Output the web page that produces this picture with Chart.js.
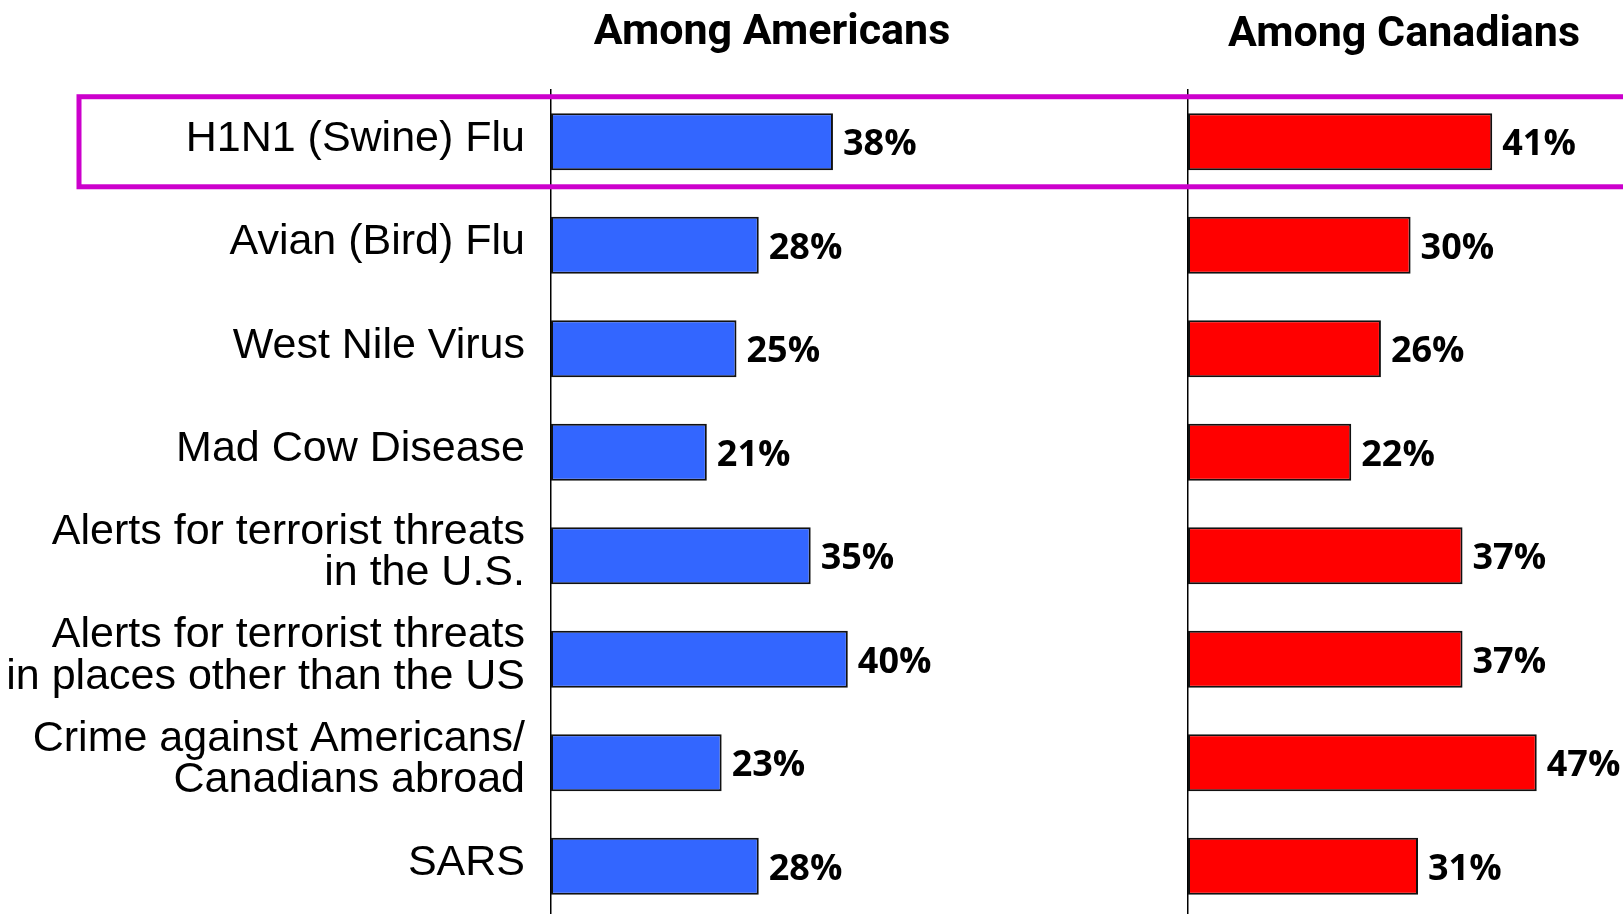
<!DOCTYPE html>
<html>
<head>
<meta charset="utf-8">
<script src="https://cdn.jsdelivr.net/npm/chart.js@4/dist/chart.umd.min.js"></script>
<style>
    html, body { margin: 0; padding: 0; background: #fff; }
    .stage { position: relative; width: 1623px; height: 914px; overflow: hidden; }
    .stage canvas { position: absolute; left: 0; top: 0; }
    .panel-title {
        position: absolute;
        transform: translateX(-50%);
        white-space: nowrap;
        font: bold 43px Roboto, sans-serif;
        line-height: 43px;
        color: #000;
    }
</style>
</head>
<body>
<div class="stage">
    <canvas id="usChart" width="1623" height="918"></canvas>
    <canvas id="caChart" width="1623" height="918"></canvas>
    <div class="panel-title" style="left: 772px; top: 8px;">Among Americans</div>
    <div class="panel-title" style="left: 1404px; top: 10px;">Among Canadians</div>
</div>
<script>
// 数据
const categories = [
    "H1N1 (Swine) Flu",
    "Avian (Bird) Flu",
    "West Nile Virus",
    "Mad Cow Disease",
    ["Alerts for terrorist threats", "in the U.S."],
    ["Alerts for terrorist threats", "in places other than the US"],
    ["Crime against Americans/", "Canadians abroad"],
    "SARS"
];
const americans = [38, 28, 25, 21, 35, 40, 23, 28];
const canadians = [41, 30, 26, 22, 37, 37, 47, 31];
const highlightIndex = 0;

// 布局
const CANVAS_W = 1623;
const PLOT_TOP = 90;
const PX_PER_PCT = 7.42;
const US_AXIS_X = 551;
const CA_AXIS_X = 1188;
const US_MAX = 80;
const CA_MAX = 58;

// 条形末端的百分比标签
const valueLabels = {
    id: "valueLabels",
    afterDatasetsDraw(chart) {
        const ctx = chart.ctx;
        const meta = chart.getDatasetMeta(0);
        const values = chart.data.datasets[0].data;
        ctx.save();
        ctx.font = "bold 36px 'Open Sans', sans-serif";
        ctx.fillStyle = "#000";
        ctx.textAlign = "left";
        ctx.textBaseline = "middle";
        meta.data.forEach((bar, i) => {
            ctx.fillText(values[i] + "%", bar.x + 10, bar.y + 3);
        });
        ctx.restore();
    }
};

// 高亮框 (H1N1)
const highlightBox = {
    id: "highlightBox",
    afterDraw(chart) {
        const y = chart.scales.y;
        const center = y.getPixelForValue(highlightIndex);
        const step = y.getPixelForValue(1) - y.getPixelForValue(0);
        const half = step * 0.435;
        const ctx = chart.ctx;
        ctx.save();
        ctx.strokeStyle = "#CC00CC";
        ctx.lineWidth = 5;
        ctx.strokeRect(79, center - half, CANVAS_W, half * 2);
        ctx.restore();
    }
};

function makeChart(canvasId, values, color, axisX, max, showLabels, plugins) {
    const rightPad = CANVAS_W - axisX - max * PX_PER_PCT;
    return new Chart(document.getElementById(canvasId), {
        type: "bar",
        data: {
            labels: categories,
            datasets: [{
                data: values,
                backgroundColor: color,
                borderColor: "#111",
                borderWidth: 2,
                borderSkipped: false,
                categoryPercentage: 1,
                barPercentage: 0.55
            }]
        },
        options: {
            indexAxis: "y",
            responsive: false,
            animation: false,
            events: [],
            layout: {
                padding: { top: PLOT_TOP, right: rightPad, left: 0, bottom: 0 }
            },
            plugins: {
                legend: { display: false },
                title: { display: false },
                tooltip: { enabled: false }
            },
            scales: {
                x: {
                    min: 0,
                    max: max,
                    display: false
                },
                y: {
                    grid: { display: false, drawTicks: false },
                    border: { display: true, color: "#000", width: 1.5 },
                    ticks: {
                        display: showLabels,
                        color: "#000",
                        padding: 26,
                        labelOffset: -3,
                        font: { family: "'Liberation Sans', Arial, sans-serif", size: 43, lineHeight: 0.97 }
                    },
                    afterFit(scale) {
                        // 固定轴宽，去掉标签撑出的上下留白
                        scale.width = axisX;
                        scale.paddingTop = 0;
                        scale.paddingBottom = 0;
                    }
                }
            }
        },
        plugins: plugins
    });
}

makeChart("usChart", americans, "#3366FF", US_AXIS_X, US_MAX, true, [valueLabels]);
makeChart("caChart", canadians, "#FF0000", CA_AXIS_X, CA_MAX, false, [valueLabels, highlightBox]);
</script>
</body>
</html>
